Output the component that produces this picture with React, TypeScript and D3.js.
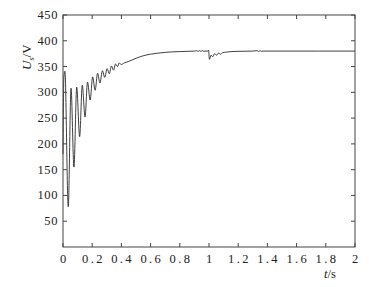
import React from "react";
import * as d3 from "d3";

const xTicks = [0, 0.2, 0.4, 0.6, 0.8, 1, 1.2, 1.4, 1.6, 1.8, 2];
const xTickLabels = ["0", "0.2", "0.4", "0.6", "0.8", "1", "1.2", "1.4", "1.6", "1.8", "2"];
const yTicks = [50, 100, 150, 200, 250, 300, 350, 400, 450];
const yTickLabels = ["50", "100", "150", "200", "250", "300", "350", "400", "450"];

const timeS = [
  0, 0.006, 0.013, 0.036, 0.055, 0.075, 0.094, 0.114, 0.132, 0.151, 0.168, 0.186,
  0.203, 0.22, 0.237, 0.253, 0.27, 0.286, 0.302, 0.317, 0.332, 0.346, 0.36, 0.373,
  0.386, 0.398, 0.42, 0.45, 0.5, 0.55, 0.6, 0.65, 0.7, 0.75, 0.8, 0.85, 0.9,
  0.915, 0.925, 0.935, 0.945, 0.955, 0.965, 0.98, 0.992, 0.997, 1.003, 1.014, 1.026,
  1.038, 1.052, 1.066, 1.08, 1.095, 1.12, 1.15, 1.2, 1.3, 1.33, 1.34, 1.35, 1.36,
  1.37, 1.5, 1.75, 2.0,
];
const voltageV = [
  180, 330, 341, 78, 308, 155, 310, 214, 314, 252, 320, 285,
  330, 304, 337, 318, 342, 329, 346, 336, 351, 343, 355, 350,
  357, 354, 357, 360, 366, 371, 374, 376, 377.5, 378.5, 379, 379.5, 380,
  380.8, 379.4, 380.8, 379.4, 380.8, 379.6, 380, 380, 382, 364, 372, 369,
  375, 372, 376, 374, 377, 378, 379, 379.5, 380, 380.8, 379.4, 380.8, 379.4,
  380, 380, 380, 380,
];

const W = 369;
const H = 287;
const M = { left: 63, right: 14, top: 15, bottom: 40 };

export default function App() {
  const x = d3.scaleLinear().domain([0, 2]).range([M.left, W - M.right]);
  const y = d3.scaleLinear().domain([0, 450]).range([H - M.bottom, M.top]);
  const pts: [number, number][] = timeS.map((t, i) => [t, voltageV[i]]);
  const line = d3
    .line<[number, number]>()
    .x((d) => x(d[0]))
    .y((d) => y(d[1]))
    .curve(d3.curveMonotoneX);
  const x0 = M.left, x1 = W - M.right, y0 = H - M.bottom, y1 = M.top;
  const tl = 4;
  const axisColor = "#444";
  const font = "'Liberation Serif', 'DejaVu Serif', serif";
  return (
    <svg
      width={W}
      height={H}
      style={{ position: "absolute", left: 0, top: 0, background: "#fff" }}
      fontFamily={font}
    >
      <rect x={0} y={0} width={W} height={H} fill="#fff" />
      <path d={line(pts) || ""} fill="none" stroke="#2a2a2a" strokeWidth={0.9} />
      <rect x={x0} y={y1} width={x1 - x0} height={y0 - y1} fill="none" stroke={axisColor} strokeWidth={1} />
      {xTicks.map((t, i) => (
        <g key={"xt" + i}>
          <line x1={x(t)} x2={x(t)} y1={y0} y2={y0 - tl} stroke={axisColor} />
          <line x1={x(t)} x2={x(t)} y1={y1} y2={y1 + tl} stroke={axisColor} />
          <text
            x={x(t) + (xTickLabels[i].length > 1 ? 1.2 : 0)}
            y={263}
            fontSize={12.5}
            textAnchor="middle"
            letterSpacing={xTickLabels[i].length > 1 ? 2.4 : 0}
            fill="#222"
          >
            {xTickLabels[i]}
          </text>
        </g>
      ))}
      {yTicks.map((v, i) => (
        <g key={"yt" + i}>
          <line x1={x0} x2={x0 + tl} y1={y(v)} y2={y(v)} stroke={axisColor} />
          <line x1={x1} x2={x1 - tl} y1={y(v)} y2={y(v)} stroke={axisColor} />
          <text x={58} y={y(v) + 4} fontSize={12.5} textAnchor="end" letterSpacing={0.6} fill="#222">
            {yTickLabels[i]}
          </text>
        </g>
      ))}
      <text x={324} y={278} fontSize={12.5} fill="#222">
        <tspan fontStyle="italic">t</tspan>
        <tspan>/s</tspan>
      </text>
      <text transform="translate(31,70) rotate(-90)" fontSize={13} fill="#222">
        <tspan fontStyle="italic">U</tspan>
        <tspan fontSize={8} dy={3}>s</tspan>
        <tspan dy={-3}>/V</tspan>
      </text>
    </svg>
  );
}
